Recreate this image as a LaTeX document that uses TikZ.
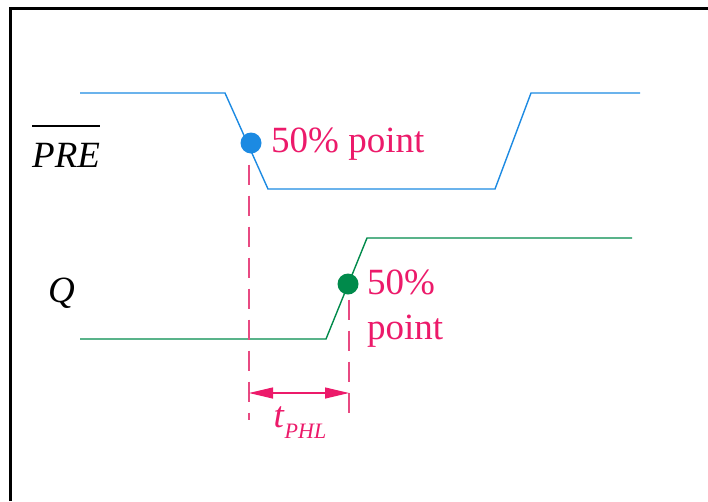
\documentclass[tikz,border=0pt]{standalone}
\usepackage{fontspec}
\setmainfont{Liberation Serif}
\usetikzlibrary{arrows.meta, positioning}
\definecolor{preblue}{HTML}{1C8AE2}
\definecolor{qgreen}{HTML}{008A4B}
\definecolor{markpink}{HTML}{EC1A6A}
\definecolor{guidepink}{HTML}{E84A82}

\begin{document}
\begin{tikzpicture}[
        x=1pt, y=-1pt,
        %Styles
        Wave/.style={line width=1.4pt},
        Dot/.style={circle, fill, inner sep=0pt, minimum size=21pt},
        Label/.style={font=\fontsize{37}{45}\selectfont, inner sep=0pt},
        Note/.style={Label, text=markpink, align=left},
        Guide/.style={guidepink, line width=1.1pt, dash pattern=on 20pt off 11pt},
        Span/.style={draw=markpink, line width=1.2pt,
            {Triangle[length=24pt, width=11pt]}-{Triangle[length=24pt, width=11pt]}},
    ]
\useasboundingbox (0,0) rectangle (708,501);

%frame
\draw[line width=3pt] (10,501) -- (10,8) -- (708,8);

%signals
\draw[Wave, preblue] (80,93) -- (225,93) -- (268,189) -- (495,189) -- (531,93) -- (640,93);
\draw[Wave, qgreen] (80,339) -- (326,339) -- (367,238) -- (632,238);

\node[Label, anchor=base west] (pre) at (32,167) {\textit{PRE}};
\draw[line width=1.8pt] ([yshift=41pt]pre.base west) -- ([yshift=41pt]pre.base east);
\node[Label, anchor=base west] (q) at (48,302) {\textit{Q}};

%50% points
\node[Dot, preblue] (d1) at (251,143) {};
\node[Dot, qgreen] (d2) at (348,284) {};
\node[Note, anchor=base west] (lab1) at (271,152) {50\% point};
\node[Note, anchor=west] (lab2) at (367,309) {50\%\\point};

%delay
\coordinate (b1) at (249,420);
\coordinate (b2) at (349,420);
\draw[Guide] (b1 |- d1.south) ++(0,11) -- (b1);
\draw[Guide] (b2 |- d2.south) ++(0,5) -- (b2);
\coordinate (a1) at (249,393);
\coordinate (a2) at (349,393);
\draw[Span] (a1) -- (a2);
\node[Label, text=markpink, anchor=base] (tphl) at (300,427)
    {\textit{t}\raisebox{-11pt}{\fontsize{22}{22}\selectfont\itshape PHL}};

\end{tikzpicture}
\end{document}
